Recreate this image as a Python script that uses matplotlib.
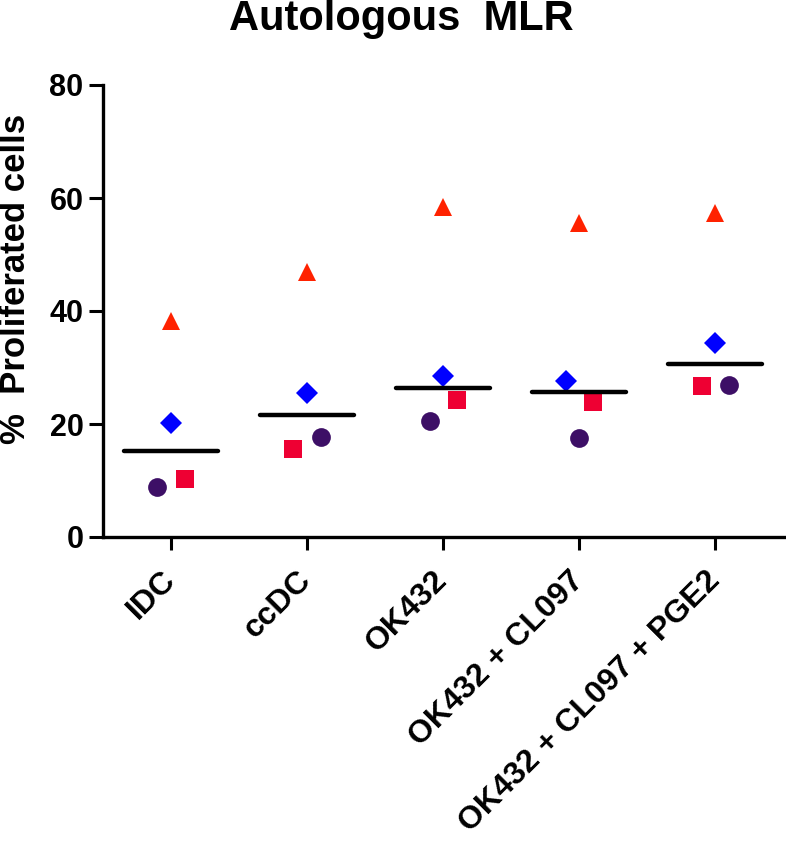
import numpy as np
import matplotlib
matplotlib.use("Agg")
import matplotlib.pyplot as plt

# -----------------------
# DATA
# -----------------------
categories = ["IDC", "ccDC", "OK432", "OK432 + CL097", "OK432 + CL097 + PGE2"]
triangle_vals = [38.2, 46.9, 58.4, 55.6, 57.3]
diamond_vals = [20.2, 25.5, 28.5, 27.6, 34.3]
square_vals = [10.3, 15.6, 24.2, 23.9, 26.7]
circle_vals = [8.8, 17.7, 20.5, 17.5, 26.9]
y_ticks = [0, 20, 40, 60, 80]

# horizontal jitter of each donor within a group
triangle_dx = [0, 0, 0, 0, 0]
diamond_dx = [0, 0, 0, -0.1, 0]
square_dx = [0.1, -0.1, 0.1, 0.1, -0.1]
circle_dx = [-0.1, 0.1, -0.1, 0, 0.1]

plt.rcParams["font.family"] = ["Liberation Sans", "DejaVu Sans"]
plt.rcParams["font.weight"] = "bold"

fig = plt.figure(figsize=(7.86, 8.46), dpi=100)
ax = fig.add_axes([103 / 786, 1 - 537 / 846, 1 - 103 / 786, (537 - 85) / 846])

x = np.arange(len(categories))

series = [
    (triangle_vals, triangle_dx, "^", "#FF2200", 13),
    (diamond_vals, diamond_dx, "D", "#0000FF", 11.5),
    (square_vals, square_dx, "s", "#EE0033", 13.5),
    (circle_vals, circle_dx, "o", "#3D0F66", 13.5),
]
for vals, dx, mk, col, ms in series:
    ax.plot(x + np.array(dx), vals, linestyle="none", marker=mk,
            color=col, markersize=ms, markeredgewidth=0, zorder=3)

# median line per group
all_vals = np.array([triangle_vals, diamond_vals, square_vals, circle_vals])
medians = np.median(all_vals, axis=0)
for xi, m in zip(x, medians):
    ax.plot([xi - 0.345, xi + 0.345], [m, m], color="black", linewidth=3.2,
            solid_capstyle="round", zorder=4)

ax.set_xlim(-0.5, 4.52)
ax.set_ylim(0, 80)
ax.set_yticks(y_ticks)
ax.set_yticklabels([str(t) for t in y_ticks], fontsize=22, fontweight="bold")
ax.set_xticks(x)
ax.set_xticklabels(categories, fontsize=23, fontweight="bold",
                   rotation=45, ha="right", va="center", rotation_mode="anchor")
ax.tick_params(axis="both", width=2.2, length=10, pad=4)
ax.tick_params(axis="x", length=9, pad=19)

for s in ["top", "right"]:
    ax.spines[s].set_visible(False)
for s in ["left", "bottom"]:
    ax.spines[s].set_linewidth(2.4)

fig.text(401 / 786, 1 - 19 / 846, "Autologous  MLR", fontsize=30,
         fontweight="bold", ha="center", va="center")
fig.text(16 / 786, 1 - 279 / 846, "%  Proliferated cells", fontsize=25,
         fontweight="bold", rotation=90, ha="center", va="center")

plt.savefig("out.png", dpi=100)
